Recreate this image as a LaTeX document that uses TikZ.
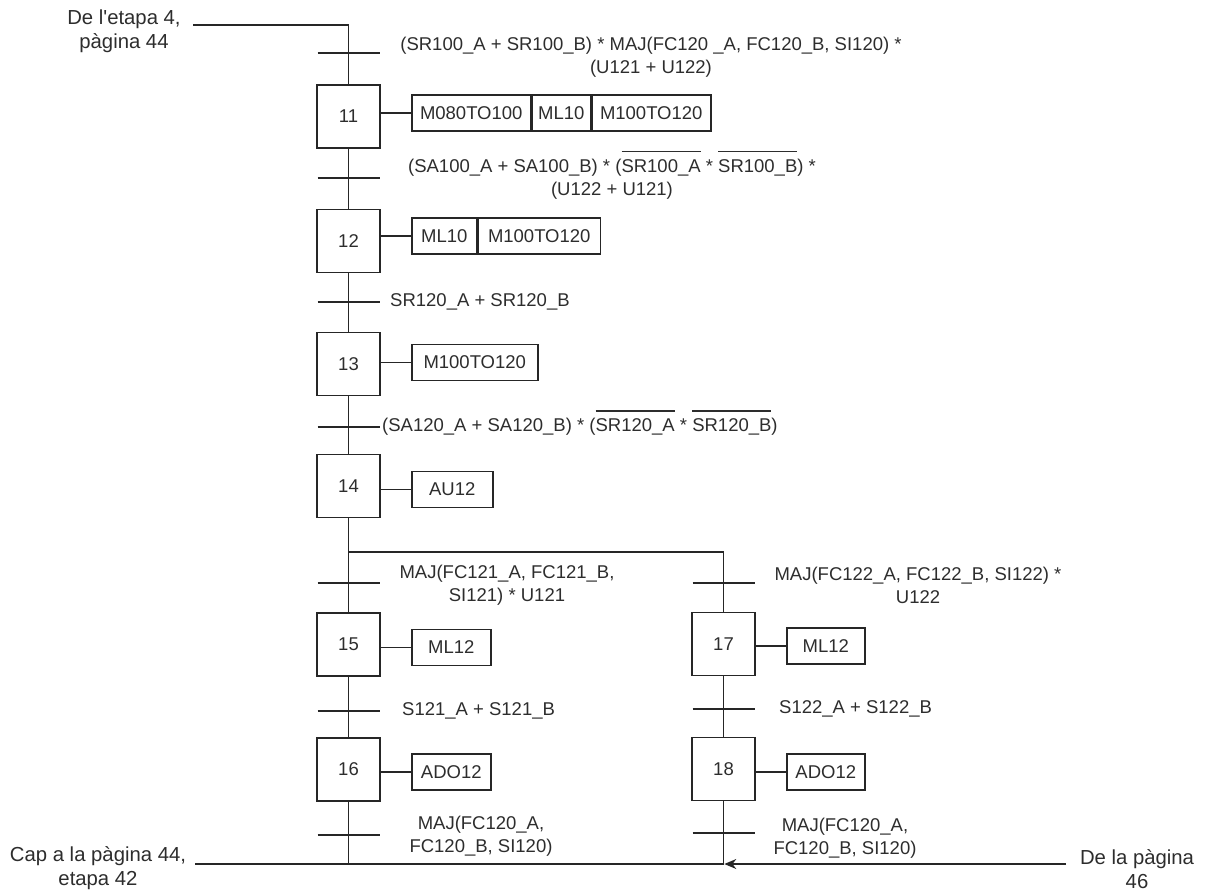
\documentclass[tikz,border=0pt]{standalone}
\usepackage{fontspec}
\newfontfamily\arialf{Liberation Sans}
\usetikzlibrary{arrows.meta}
\definecolor{ln}{RGB}{38,38,38}
\definecolor{txt}{RGB}{45,45,45}
\newsavebox\ovlbox
\newcommand\ovl[1]{\sbox\ovlbox{#1}\rlap{\smash{\rule[20pt]{\wd\ovlbox}{1.3pt}}}\usebox\ovlbox}
\begin{document}
\begin{tikzpicture}[x=1pt,y=-1pt,
  every node/.style={font=\arialf\fontsize{18.5}{23}\selectfont, text=txt},
  stepbox/.style={draw=ln, line width=1.5pt, minimum width=63pt, minimum height=63pt, inner sep=0pt},
  actbox/.style={draw=ln, line width=1.5pt, minimum height=36pt, inner sep=0pt, anchor=west},
  conn/.style={draw=ln, line width=1.5pt},
  lbl/.style={inner sep=0pt, align=center},
  refl/.style={lbl, font=\arialf\fontsize{20.3}{24}\selectfont},
]
\useasboundingbox (0,0) rectangle (1213,892);

% steps
\node[stepbox] (s11) at (348.5,116.5) {11};
\node[stepbox] (s12) at (348.5,241) {12};
\node[stepbox] (s13) at (348.5,364) {13};
\node[stepbox] (s14) at (348.5,486) {14};
\node[stepbox] (s15) at (348.5,644.5) {15};
\node[stepbox] (s16) at (348.5,769.5) {16};
\node[stepbox] (s17) at (723.5,644) {17};
\node[stepbox] (s18) at (723.5,769) {18};

% actions
\node[actbox, minimum width=119pt] (a11a) at (411,113) {M080TO100};
\node[actbox, minimum width=58pt] (a11b) at (a11a.east) {ML10};
\node[actbox, minimum width=119pt] (a11c) at (a11b.east) {M100TO120};
\node[actbox, minimum width=65pt] (a12a) at (411,236) {ML10};
\node[actbox, minimum width=122pt] (a12b) at (a12a.east) {M100TO120};
\node[actbox, minimum width=126pt] (a13) at (411,362.5) {M100TO120};
\node[actbox, minimum width=81pt] (a14) at (411,489.5) {AU12};
\node[actbox, minimum width=79pt] (a15) at (411,647.5) {ML12};
\node[actbox, minimum width=79pt] (a16) at (411,772) {ADO12};
\node[actbox, minimum width=78pt] (a17) at (786,646) {ML12};
\node[actbox, minimum width=78pt] (a18) at (786,772) {ADO12};

\draw[conn] (s11.east |- a11a.west) -- (a11a.west);
\draw[conn] (s12.east |- a12a.west) -- (a12a.west);
\draw[conn] (s13.east |- a13.west) -- (a13.west);
\draw[conn] (s14.east |- a14.west) -- (a14.west);
\draw[conn] (s15.east |- a15.west) -- (a15.west);
\draw[conn] (s16.east |- a16.west) -- (a16.west);
\draw[conn] (s17.east |- a17.west) -- (a17.west);
\draw[conn] (s18.east |- a18.west) -- (a18.west);

% links between steps
\coordinate (in1) at (193,25);
\draw[conn] (in1) -| (s11.north);
\draw[conn] (s11) -- (s12);
\draw[conn] (s12) -- (s13);
\draw[conn] (s13) -- (s14);
\draw[conn] (s14) -- (s15);
\draw[conn] (s15) -- (s16);
\coordinate (br) at (348.5,552);
\draw[conn] (br) -| (s17.north);
\draw[conn] (s17) -- (s18);
\coordinate (out) at (195,864);
\coordinate (j16) at (348.5,864);
\coordinate (j18) at (723.5,864);
\draw[conn] (s16.south) -- (j16);
\draw[conn] (s18.south) -- (j18);
\draw[conn] (out) -- (j18);
\coordinate (in2) at (1066,864);
\draw[conn, -{Stealth[length=12pt,width=10pt]}, shorten >=0.8pt] (in2) -- (j18);

% transition bars
\coordinate (t1) at (348.5,53);
\coordinate (t2) at (348.5,178);
\coordinate (t3) at (348.5,302);
\coordinate (t4) at (348.5,427);
\coordinate (t5) at (348.5,583);
\coordinate (t6) at (348.5,711);
\coordinate (t7) at (348.5,835);
\coordinate (t8) at (723.5,583);
\coordinate (t9) at (723.5,709);
\coordinate (t10) at (723.5,833);
\foreach \t in {t1,t2,t3,t4,t5,t6,t7,t8,t9,t10}
  \draw[conn] ([xshift=-31pt]\t) -- ([xshift=31pt]\t);

% transition labels
\node[lbl] (l1) at (651,57) {(SR100\_A + SR100\_B) * MAJ(FC120 \_A, FC120\_B, SI120) *\\(U121 + U122)};
\node[lbl] (l2) at (612,179) {(SA100\_A + SA100\_B) * (\ovl{SR100\_A} * \ovl{SR100\_B}) *\\(U122 + U121)};
\node[lbl, anchor=west] (l3) at (390,302) {SR120\_A + SR120\_B};
\node[lbl, anchor=west] (l4) at (382,427) {(SA120\_A + SA120\_B) * (\ovl{SR120\_A} * \ovl{SR120\_B})};
\node[lbl] (l5) at (507,585) {MAJ(FC121\_A, FC121\_B,\\SI121) * U121};
\node[lbl] (l8) at (918,585) {MAJ(FC122\_A, FC122\_B, SI122) *\\U122};
\node[lbl, anchor=west] (l6) at (402,711) {S121\_A + S121\_B};
\node[lbl, anchor=west] (l9) at (779,709) {S122\_A + S122\_B};
\node[lbl] (l7) at (481,836) {MAJ(FC120\_A,\\FC120\_B, SI120)};
\node[lbl] (l10) at (845,838) {MAJ(FC120\_A,\\FC120\_B, SI120)};

% page references
\node[refl] (ref1) at (124,31) {De l'etapa 4,\\pàgina 44};
\node[refl] (ref2) at (98,868) {Cap a la pàgina 44,\\etapa 42};
\node[refl] (ref3) at (1137,869) {De la pàgina\\46};
\end{tikzpicture}
\end{document}
